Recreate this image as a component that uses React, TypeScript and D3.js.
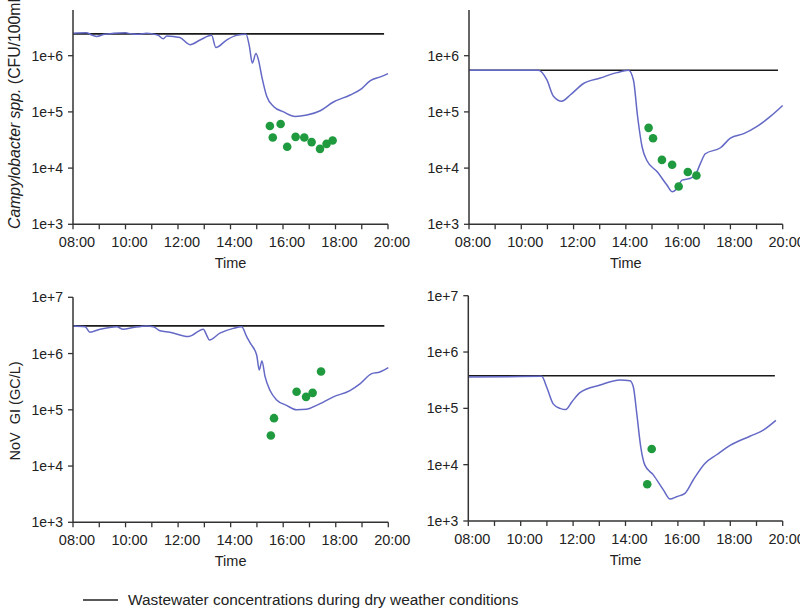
import React from "react";
import * as d3 from "d3";

// ---------- DATA (time in decimal hours, concentration values) ----------
const xTickLabels = ["08:00", "10:00", "12:00", "14:00", "16:00", "18:00", "20:00"];
const yTickValues = [1e3, 1e4, 1e5, 1e6, 1e7];

// Panel A: Campylobacter spp. (top-left)
const campyModelTime = [8.0, 8.5, 8.75, 8.9, 9.2, 9.54, 10.0, 10.2, 10.5, 10.8, 11.0, 11.25, 11.44, 11.57, 12.07, 12.46, 12.84, 13.28, 13.44, 13.85, 14.23, 14.59, 14.72, 14.83, 14.97, 15.06, 15.19, 15.38, 15.64, 16.02, 16.47, 16.91, 17.42, 17.92, 18.56, 19.0, 19.33, 19.71, 20.0];
const campyModelValue = [2.5e6, 2.55e6, 2.3e6, 2.2e6, 2.4e6, 2.5e6, 2.55e6, 2.45e6, 2.4e6, 2.5e6, 2.45e6, 2.3e6, 2.0e6, 2.25e6, 2.1e6, 1.57e6, 1.9e6, 2.3e6, 1.4e6, 1.9e6, 2.3e6, 2.4e6, 1.47e6, 7.4e5, 1.09e6, 8.6e5, 4.3e5, 1.9e5, 1.25e5, 1.0e5, 8.3e4, 8.8e4, 1.05e5, 1.5e5, 2.0e5, 2.6e5, 3.6e5, 4.2e5, 4.8e5];
const campyObsTime = [15.5, 15.61, 15.91, 16.16, 16.48, 16.81, 17.09, 17.41, 17.66, 17.89];
const campyObsValue = [5.6e4, 3.5e4, 6.1e4, 2.4e4, 3.6e4, 3.5e4, 2.9e4, 2.2e4, 2.7e4, 3.1e4];
const campyDryValue = 2.45e6;
const campyDryEnd = 19.85;

// Panel B: (top-right)
const bModelTime = [8.0, 10.65, 10.98, 11.23, 11.55, 11.87, 12.38, 13.02, 13.66, 14.1, 14.29, 14.45, 14.62, 14.81, 15.19, 15.57, 15.77, 15.96, 16.15, 16.47, 16.66, 16.85, 17.04, 17.62, 18.0, 18.51, 19.02, 19.53, 20.0];
const bModelValue = [5.5e5, 5.5e5, 3.7e5, 1.9e5, 1.55e5, 2.0e5, 3.2e5, 4.0e5, 5.0e5, 5.5e5, 3.7e5, 8.2e4, 2.4e4, 1.35e4, 8.7e3, 5.0e3, 3.8e3, 4.4e3, 6.1e3, 6.6e3, 7.6e3, 1.2e4, 1.8e4, 2.3e4, 3.4e4, 4.1e4, 5.5e4, 8.3e4, 1.3e5];
const bObsTime = [14.87, 15.04, 15.38, 15.77, 16.02, 16.37, 16.7];
const bObsValue = [5.2e4, 3.4e4, 1.4e4, 1.15e4, 4.7e3, 8.5e3, 7.4e3];
const bDryValue = 5.5e5;
const bDryEnd = 19.82;

// Panel C: NoV GI (bottom-left)
const novModelTime = [8.0, 8.46, 8.64, 9.03, 9.66, 9.91, 10.29, 10.8, 11.06, 11.31, 11.69, 12.39, 12.96, 13.09, 13.19, 13.59, 14.1, 14.42, 14.61, 14.76, 14.99, 15.09, 15.19, 15.31, 15.5, 15.75, 16.13, 16.51, 16.89, 17.27, 17.91, 18.54, 18.92, 19.37, 19.68, 20.0];
const novModelValue = [3.1e6, 3.0e6, 2.4e6, 2.7e6, 3.0e6, 2.7e6, 2.9e6, 3.1e6, 3.0e6, 2.55e6, 2.4e6, 2.0e6, 2.7e6, 2.1e6, 1.74e6, 2.3e6, 2.8e6, 3.0e6, 2.0e6, 1.5e6, 9.4e5, 5.1e5, 7.4e5, 3.9e5, 2.2e5, 1.5e5, 1.2e5, 1.0e5, 1.02e5, 1.2e5, 1.7e5, 2.2e5, 2.9e5, 4.4e5, 4.7e5, 5.6e5];
const novObsTime = [15.53, 15.65, 16.51, 16.87, 17.12, 17.44];
const novObsValue = [3.5e4, 7.1e4, 2.1e5, 1.7e5, 2.0e5, 4.8e5];
const novDryValue = 3.1e6;
const novDryEnd = 19.85;

// Panel D: (bottom-right)
const dModelTime = [8.0, 9.5, 10.8, 10.99, 11.24, 11.5, 11.72, 11.95, 12.26, 13.03, 13.79, 14.17, 14.3, 14.43, 14.58, 14.74, 15.06, 15.44, 15.7, 15.95, 16.27, 16.59, 17.03, 17.48, 17.99, 18.75, 19.26, 19.74];
const dModelValue = [3.6e5, 3.65e5, 3.7e5, 2.4e5, 1.2e5, 1.0e5, 9.5e4, 1.3e5, 1.9e5, 2.6e5, 3.2e5, 3.1e5, 2.4e5, 8.1e4, 2.1e4, 9.8e3, 6.6e3, 3.6e3, 2.45e3, 2.7e3, 3.1e3, 5.4e3, 1.05e4, 1.5e4, 2.2e4, 3.2e4, 4.1e4, 6.1e4];
const dObsTime = [14.83, 15.0];
const dObsValue = [4.5e3, 1.9e4];
const dDryValue = 3.8e5;
const dDryEnd = 19.7;

const legendLabel = "Wastewater concentrations during dry weather conditions";

// ---------- STYLE / LAYOUT ----------
const FONT = "'Liberation Sans', Arial, sans-serif";
const BLUE = "#6469c6";
const GREEN = "#1f9a3e";
const AXIS = "#333";

type PanelDef = {
  left: number; right: number; top: number; bottom: number; yMax: number;
  mt: number[]; mv: number[]; ot: number[]; ov: number[]; dry: number; dryEnd: number;
};

const panels: PanelDef[] = [
  { left: 73, right: 388, top: 10, bottom: 224.3, yMax: Math.pow(10, 3 + 214.3 / 56.2),
    mt: campyModelTime, mv: campyModelValue, ot: campyObsTime, ov: campyObsValue, dry: campyDryValue, dryEnd: campyDryEnd },
  { left: 469, right: 782.7, top: 10, bottom: 224.3, yMax: Math.pow(10, 3 + 214.3 / 56.2),
    mt: bModelTime, mv: bModelValue, ot: bObsTime, ov: bObsValue, dry: bDryValue, dryEnd: bDryEnd },
  { left: 73, right: 388.3, top: 297.3, bottom: 522.3, yMax: 1e7,
    mt: novModelTime, mv: novModelValue, ot: novObsTime, ov: novObsValue, dry: novDryValue, dryEnd: novDryEnd },
  { left: 468.3, right: 782.7, top: 295.7, bottom: 521, yMax: 1e7,
    mt: dModelTime, mv: dModelValue, ot: dObsTime, ov: dObsValue, dry: dDryValue, dryEnd: dDryEnd },
];

function Panel({ p }: { p: PanelDef }) {
  const x = d3.scaleLinear().domain([8, 20]).range([p.left, p.right]);
  const y = d3.scaleLog().domain([1e3, p.yMax]).range([p.bottom, p.top]);
  const line = d3.line<number>().x((_, i) => x(p.mt[i])).y((v) => y(v)).curve(d3.curveMonotoneX);
  const hourTicks = d3.range(8, 20.01, 1);
  const yTicks = yTickValues.filter((v) => v <= p.yMax * 1.001);
  return (
    <g>
      <line x1={x(8)} x2={x(p.dryEnd)} y1={y(p.dry)} y2={y(p.dry)} stroke="#1a1a1a" strokeWidth={1.6} />
      <path d={line(p.mv) || ""} fill="none" stroke={BLUE} strokeWidth={1.5} />
      {p.ot.map((t, i) => (
        <circle key={i} cx={x(t)} cy={y(p.ov[i])} r={4.3} fill={GREEN} />
      ))}
      <line x1={p.left} x2={p.left} y1={p.top} y2={p.bottom} stroke={AXIS} strokeWidth={1.5} />
      <line x1={p.left} x2={p.right} y1={p.bottom} y2={p.bottom} stroke={AXIS} strokeWidth={1.5} />
      {yTicks.map((v) => (
        <g key={v}>
          <line x1={p.left - 5} x2={p.left} y1={y(v)} y2={y(v)} stroke={AXIS} strokeWidth={1.3} />
          <text x={p.left - 10} y={y(v) + 5} textAnchor="end" fontSize={14} fontFamily={FONT} fill="#222">
            {"1e+" + Math.round(Math.log10(v))}
          </text>
        </g>
      ))}
      {hourTicks.map((h) => (
        <line key={h} x1={x(h)} x2={x(h)} y1={p.bottom} y2={p.bottom + 5} stroke={AXIS} strokeWidth={1.3} />
      ))}
      {xTickLabels.map((lab, i) => (
        <text key={lab} x={x(8 + i * 2) + 4} y={p.bottom + 23} textAnchor="middle" fontSize={14.5} fontFamily={FONT} fill="#222">
          {lab}
        </text>
      ))}
      <text x={(p.left + p.right) / 2} y={p.bottom + 44} textAnchor="middle" fontSize={14.5} fontFamily={FONT} fill="#222">
        Time
      </text>
    </g>
  );
}

export default function App() {
  return (
    <svg width={800} height={611} style={{ position: "absolute", left: 0, top: 0, background: "#fff" }}>
      <rect x={0} y={0} width={800} height={611} fill="#fff" />
      {panels.map((p, i) => (
        <Panel key={i} p={p} />
      ))}
      <text transform="translate(20,229) rotate(-90)" fontSize={15.8} fontFamily={FONT} fill="#222">
        <tspan fontStyle="italic">Campylobacter spp.</tspan>
        <tspan> (CFU/100mL)</tspan>
      </text>
      <text transform="translate(20,411) rotate(-90)" textAnchor="middle" fontSize={14.5} fontFamily={FONT} fill="#222" style={{ whiteSpace: "pre" }}>
        {"NoV  GI (GC/L)"}
      </text>
      <line x1={83} x2={118} y1={600} y2={600} stroke="#222" strokeWidth={1.3} />
      <text x={128} y={605} fontSize={15.4} fontFamily={FONT} fill="#222">
        {legendLabel}
      </text>
    </svg>
  );
}
